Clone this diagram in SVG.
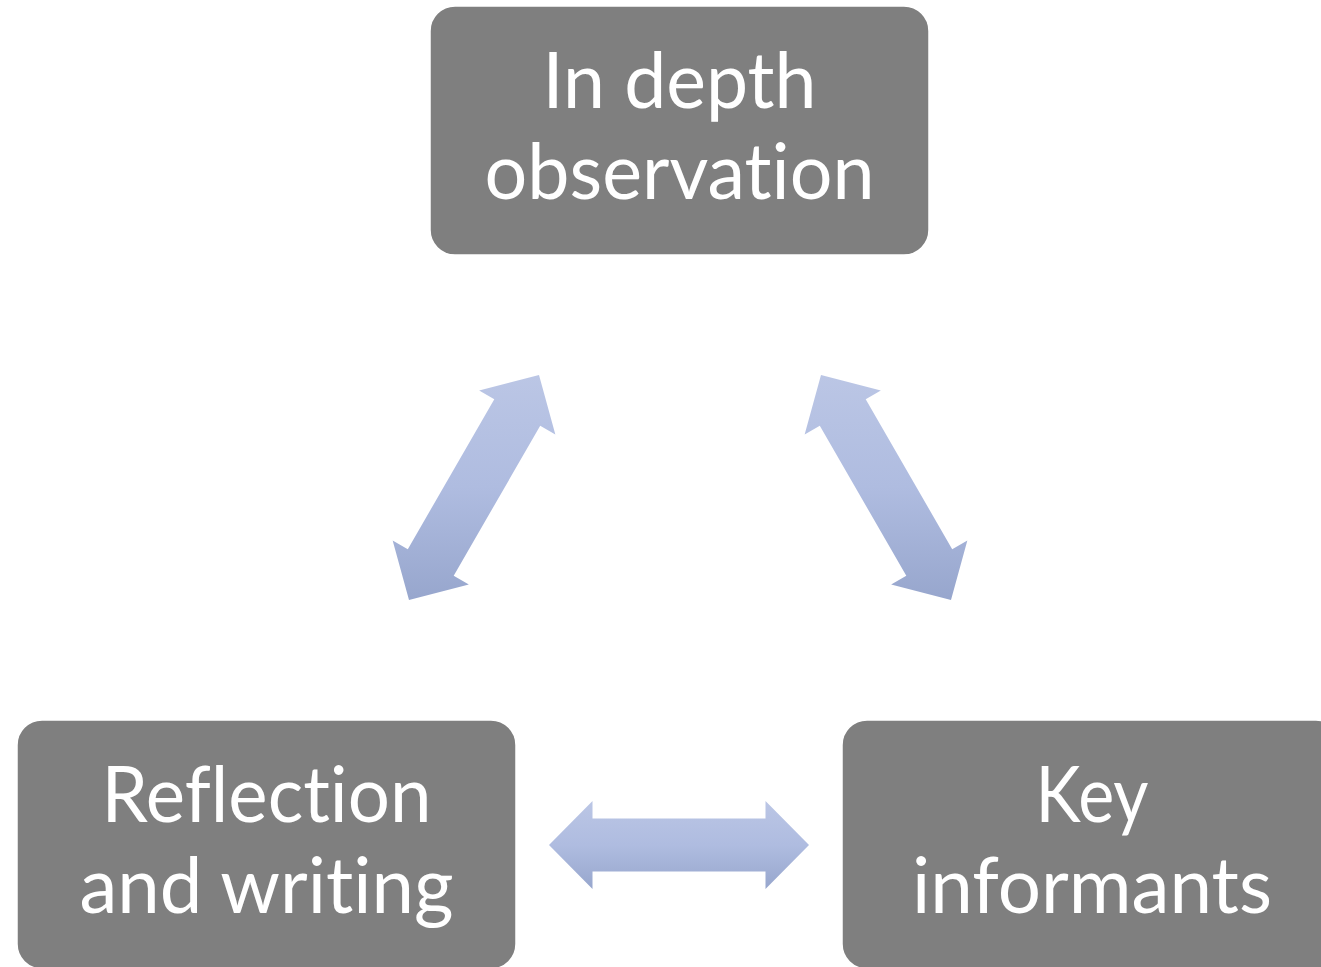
<svg xmlns="http://www.w3.org/2000/svg" width="1321" height="967" viewBox="0 0 1321 967">
  <defs>
    <linearGradient id="arrowGrad" x1="0" y1="0" x2="0" y2="1">
      <stop offset="0" stop-color="#bbc6e5"/>
      <stop offset="0.5" stop-color="#afbce0"/>
      <stop offset="1" stop-color="#97a6cd"/>
    </linearGradient>
  </defs>
  <style>
    .box { fill: #7f7f7f; stroke: #ffffff; stroke-width: 1.5; }
    .lbl { fill: #ffffff; font-family: "Lato", "Liberation Sans", sans-serif; font-size: 78px; text-anchor: middle; font-variant-ligatures: none; font-feature-settings: "liga" 0, "clig" 0; }
    .arrow { fill: url(#arrowGrad); stroke: none; }
  </style>
  <rect width="1321" height="967" fill="#ffffff"/>
  <g id="connectors">
    <path class="arrow" d="M409,600.1 L392.65,540.41 L407.8,549.16 L494.3,399.34 L479.15,390.59 L539,374.92 L555.35,434.59 L540.2,425.84 L453.7,575.66 L468.85,584.41 Z"/>
    <path class="arrow" d="M951,600.1 L967.35,540.41 L952.2,549.16 L865.7,399.34 L880.85,390.59 L821,374.92 L804.65,434.59 L819.8,425.84 L906.3,575.66 L891.15,584.41 Z"/>
    <path class="arrow" d="M549,845 L592.5,801 L592.5,818.5 L765.5,818.5 L765.5,801 L809,845 L765.5,889 L765.5,871.5 L592.5,871.5 L592.5,889 Z"/>
  </g>
  <g id="node-observation">
    <rect class="box" x="430" y="6" width="499" height="249" rx="25" ry="25"/>
    <text class="lbl" x="679.5" y="107.5" textLength="274" lengthAdjust="spacingAndGlyphs">In depth</text>
    <text class="lbl" x="679.5" y="198.5" textLength="390" lengthAdjust="spacingAndGlyphs">observation</text>
  </g>
  <g id="node-reflection">
    <rect class="box" x="17" y="720" width="499" height="249" rx="25" ry="25"/>
    <text class="lbl" x="266.5" y="822" textLength="330" lengthAdjust="spacingAndGlyphs">Reflection</text>
    <text class="lbl" x="266.5" y="912.5" textLength="374" lengthAdjust="spacingAndGlyphs">and writing</text>
  </g>
  <g id="node-informants">
    <rect class="box" x="842" y="720" width="499" height="249" rx="25" ry="25"/>
    <text class="lbl" x="1092" y="822" textLength="113" lengthAdjust="spacingAndGlyphs">Key</text>
    <text class="lbl" x="1092" y="912.5" textLength="360" lengthAdjust="spacingAndGlyphs">informants</text>
  </g>
</svg>
